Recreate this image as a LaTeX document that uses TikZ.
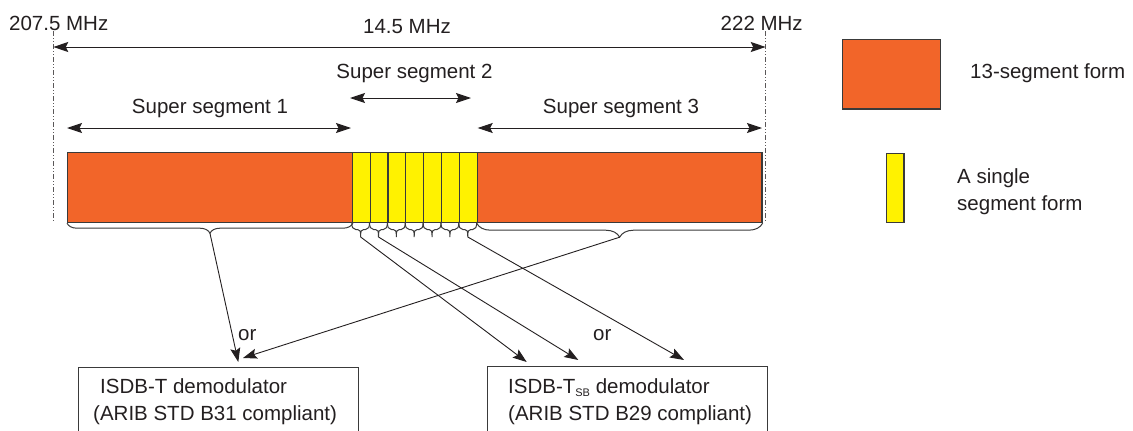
\documentclass[tikz,border=0pt]{standalone}
\usepackage{fontspec}
\setmainfont{Liberation Sans}
\usetikzlibrary{arrows.meta,decorations.pathreplacing,calc}
\definecolor{segorange}{HTML}{F26529}
\definecolor{segyellow}{HTML}{FFF200}
\definecolor{edge}{HTML}{3A3A3A}
\definecolor{ink}{HTML}{231F20}
\begin{document}
\begin{tikzpicture}[x=1pt,y=-1pt,
  lbl/.style={font=\fontsize{20.5}{24}\selectfont, text=ink, inner sep=0pt, anchor=base west},
  clbl/.style={lbl, anchor=base},
  obar/.style={draw=edge, line width=1.2pt, fill=segorange, minimum width=284.7pt, minimum height=70pt, inner sep=0pt, anchor=north west},
  yseg/.style={draw=edge, line width=1.2pt, fill=segyellow, minimum width=17.857pt, minimum height=70pt, inner sep=0pt, anchor=north west},
  demod/.style={draw=edge, line width=1pt, minimum width=280pt, minimum height=90pt, inner sep=0pt, anchor=north west},
  guide/.style={draw=ink!75, line width=0.8pt, dash pattern=on 5pt off 2pt on 1pt off 2pt on 1pt off 2pt},
  span/.style={draw=ink, line width=1pt, {Stealth[length=15pt,width=10pt,inset=2.5pt]}-{Stealth[length=15pt,width=10pt,inset=2.5pt]}},
  feed/.style={draw=ink, line width=0.9pt, -{Stealth[length=14pt,width=10pt,inset=2.5pt]}},
  bracestyle/.style={draw=edge, line width=1pt}
]
\clip (0,0) rectangle (1133,431);

% guide lines
\coordinate (gLt) at (53.3,31);
\coordinate (gLb) at (53.3,221);
\coordinate (gRt) at (765.7,31);
\coordinate (gRb) at (765.7,221);
\draw[guide] (gLt) -- (gLb);
\draw[guide] (gRt) -- (gRb);

% frequency labels
\node[lbl] (f1) at (9,30.5) {207.5 MHz};
\node[lbl] (f2) at (720.5,30.5) {222 MHz};
\node[clbl] (f3) at (407,33) {14.5 MHz};
\coordinate (wL) at (53.3,47);
\coordinate (wR) at (765.7,47);
\draw[span] (wL) -- (wR);

% super segment labels and spans
\node[clbl] (ss1) at (210,113.3) {Super segment 1};
\node[clbl] (ss2) at (414.5,78.3) {Super segment 2};
\node[clbl] (ss3) at (621,113.3) {Super segment 3};
\coordinate (a1L) at (67,128);
\coordinate (a1R) at (351,128);
\coordinate (a2L) at (350,98);
\coordinate (a2R) at (471,98);
\coordinate (a3L) at (477.7,128);
\coordinate (a3R) at (762,128);
\draw[span] (a1L) -- (a1R);
\draw[span] (a2L) -- (a2R);
\draw[span] (a3L) -- (a3R);

% bars
\node[obar] (barL) at (67,152) {};
\node[obar] (barR) at (476.7,152) {};
\foreach \i in {1,...,7}{
  \pgfmathsetmacro\xa{351.7+(\i-1)*17.857}
  \pgfmathsetmacro\xb{\xa+17.857}
  \pgfmathsetmacro\xm{\xa+8.93}
  \node[yseg] (s\i) at (\xa,152) {};
  \draw[bracestyle] (\xa,222) .. controls (\xa,227) and (\xa+1,229.5) .. (\xa+4,229.5) -- (\xm-3,229.5) .. controls (\xm-0.5,229.5) and (\xm,231) .. (\xm,237) .. controls (\xm,231) and (\xm+0.5,229.5) .. (\xm+3,229.5) -- (\xb-4,229.5) .. controls (\xb-1,229.5) and (\xb,227) .. (\xb,222);
  \coordinate (t\i) at (\xm,237);
}

% big braces
\draw[bracestyle, decorate, decoration={brace, mirror, amplitude=10pt}] (barL.south west) -- (barL.south east);
\draw[bracestyle, decorate, decoration={brace, mirror, amplitude=14pt}] (barR.south west) -- (barR.south east);
\coordinate (tL) at ($(barL.south)+(0,10)$);
\coordinate (tR) at ($(barR.south)+(0,14)$);

% demodulator boxes
\node[demod] (b1) at (77.7,366.7) {};
\node[demod] (b2) at (487.3,366) {};
\node[lbl] (b1a) at (100,393.3) {ISDB-T demodulator};
\node[lbl] (b1b) at (93,420) {(ARIB STD B31 compliant)};
\node[lbl] (b2a) at (508,393.3) {ISDB-T{\fontsize{11}{11}\selectfont\raisebox{-3pt}{SB}} demodulator};
\node[lbl] (b2b) at (508,420) {(ARIB STD B29 compliant)};

% feed arrows
\coordinate (e1) at (238.3,362);
\coordinate (e2) at (243,358);
\coordinate (e3) at (526.7,362);
\coordinate (e4) at (578.3,360);
\coordinate (e5) at (684,360);
\draw[feed] (tL) -- (e1);
\draw[feed] (tR) -- (e2);
\draw[feed] (t1) -- (e3);
\draw[feed] (t2) -- (e4);
\draw[feed] (t7) -- (e5);
\node[lbl] (or1) at (238,340) {or};
\node[lbl] (or2) at (593,340) {or};

% legend
\node[draw=edge, line width=1.2pt, fill=segorange, minimum width=98.3pt, minimum height=69.3pt, inner sep=0pt, anchor=north west] (lg1) at (841.7,39) {};
\node[lbl] (lg1t) at (970,78) {13-segment form};
\node[draw=edge, line width=1.2pt, fill=segyellow, minimum width=17.6pt, minimum height=69pt, inner sep=0pt, anchor=north west] (lg2) at (885.7,152.7) {};
\node[lbl] (lg2a) at (957,183) {A single};
\node[lbl] (lg2b) at (957,210) {segment form};
\end{tikzpicture}
\end{document}
